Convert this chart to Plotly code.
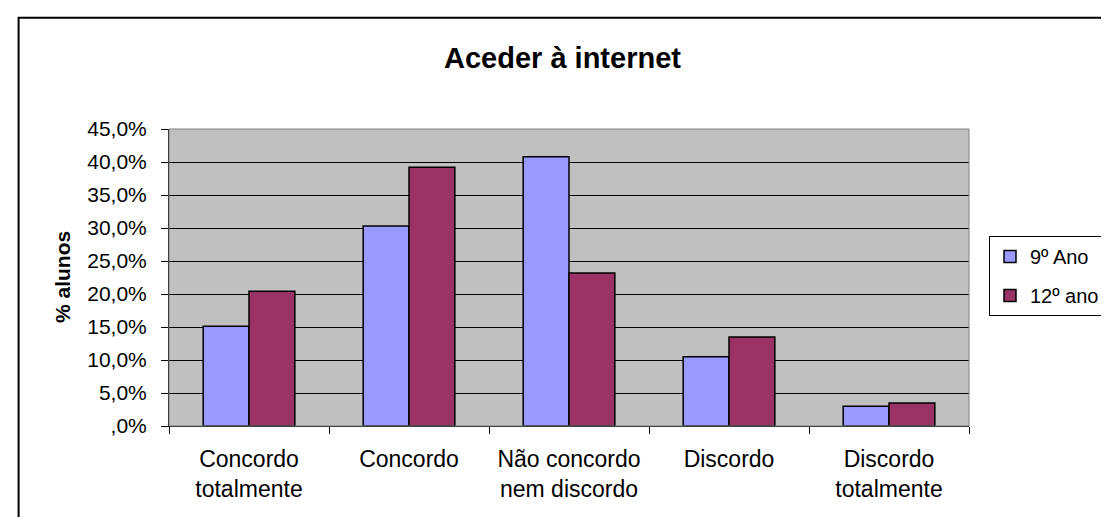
import plotly.graph_objects as go

# Data (% of students)
categories = [
    "Concordo<br>totalmente",
    "Concordo",
    "Não concordo<br>nem discordo",
    "Discordo",
    "Discordo<br>totalmente",
]
ano9 = [15.1, 30.3, 40.8, 10.5, 3.0]
ano12 = [20.4, 39.2, 23.2, 13.5, 3.5]

y_tickvals = [0, 5, 10, 15, 20, 25, 30, 35, 40, 45]
y_ticktext = [",0%", "5,0%", "10,0%", "15,0%", "20,0%", "25,0%",
              "30,0%", "35,0%", "40,0%", "45,0%"]

FONT = "Liberation Sans, Arial, sans-serif"

fig = go.Figure()
fig.add_bar(
    x=categories, y=ano9, name="9º Ano", legendgroup="a",
    marker=dict(color="#9999FF", line=dict(color="black", width=1.5)),
)
fig.add_bar(
    x=categories, y=ano12, name="12º ano", legendgroup="b",
    marker=dict(color="#993366", line=dict(color="black", width=1.5)),
)

fig.update_layout(
    width=1109,
    height=517,
    margin=dict(l=161, r=137, t=121, b=99),
    paper_bgcolor="white",
    plot_bgcolor="#C0C0C0",
    font=dict(family=FONT, size=21, color="black"),
    barmode="group",
    bargap=0.427,
    bargroupgap=0,
    title=dict(
        text="<b>Aceder à internet</b>",
        font=dict(size=29),
        x=0.5, xanchor="center",
        y=1 - 50 / 517, yanchor="middle",
    ),
    legend=dict(
        x=1.025, xanchor="left",
        y=0.64, yanchor="top",
        bordercolor="black", borderwidth=1,
        bgcolor="white",
        font=dict(size=20),
        itemwidth=30,
        traceorder="grouped",
        tracegroupgap=10,
    ),
    showlegend=True,
)

fig.update_xaxes(
    showline=True, linecolor="black", linewidth=1,
    ticks="outside", ticklen=7, tickcolor="black",
    tickson="boundaries",
    ticklabelstandoff=12,
    showgrid=False,
    tickfont=dict(size=23),
)
fig.update_yaxes(
    range=[0, 45],
    tickvals=y_tickvals, ticktext=y_ticktext,
    showline=True, linecolor="black", linewidth=1,
    ticks="outside", ticklen=7, tickcolor="black",
    ticklabelstandoff=10,
    showgrid=True, gridcolor="black", gridwidth=1,
    zeroline=False,
    tickfont=dict(size=21),
)

# y-axis title
fig.add_annotation(
    text="<b>% alunos</b>", textangle=-90,
    xref="paper", yref="paper", x=0, y=0.5,
    xshift=-120, showarrow=False, font=dict(size=21),
)

# plot area border and outer chart frame
fig.add_shape(type="rect", xref="paper", yref="paper",
              x0=0, x1=1, y0=0, y1=1,
              line=dict(color="#808080", width=1))
fig.add_shape(type="rect", xref="paper", yref="paper",
              x0=-0.188, x1=1.175, y0=-0.345, y1=1.375,
              line=dict(color="black", width=2))

fig.write_html("out.html")
